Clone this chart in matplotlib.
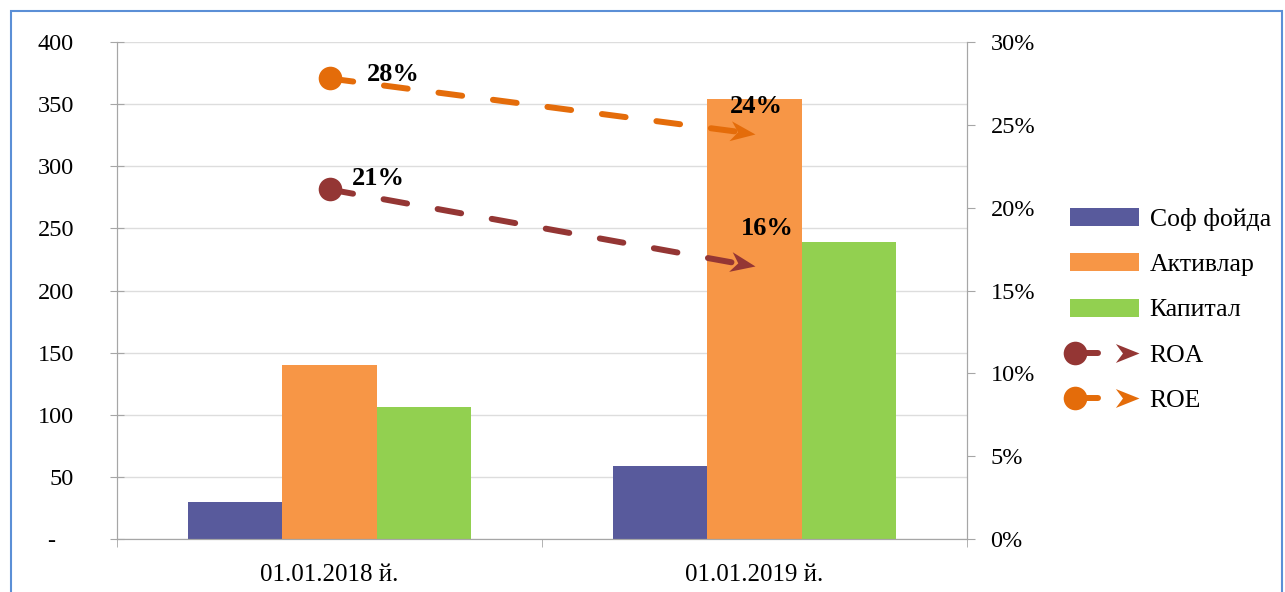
import math
import numpy as np
import matplotlib
matplotlib.use('Agg')
import matplotlib.pyplot as plt
from matplotlib.lines import Line2D
from matplotlib.patches import Rectangle
from matplotlib.markers import MarkerStyle
from matplotlib.path import Path
from matplotlib.transforms import Affine2D
from matplotlib.legend_handler import HandlerBase

# data
dates = ['01.01.2018 й.', '01.01.2019 й.']
net_profit = [30, 59]
assets = [140, 354]
capital = [106, 239]
roa = [0.211, 0.1645]
roe = [0.278, 0.2445]

bar_names = ['Соф фойда', 'Активлар', 'Капитал']
line_names = ['ROA', 'ROE']
left_ticks = [0, 50, 100, 150, 200, 250, 300, 350, 400]
right_ticks = [0, 0.05, 0.10, 0.15, 0.20, 0.25, 0.30]

bar_colors = ['#585A9C', '#F79646', '#92D050']
line_colors = ['#943634', '#E46C0A']
grey = '#A6A6A6'

plt.rcParams['font.family'] = ['Liberation Serif', 'DejaVu Serif']
plt.rcParams['font.size'] = 17.5

# notched arrow head, tip at the origin
head_path = Path([(-2, -0.8), (0, 0), (-2, 0.8), (-1.4, 0), (-2, -0.8)],
                 [Path.MOVETO, Path.LINETO, Path.LINETO, Path.LINETO, Path.CLOSEPOLY])


class ArrowLegend(HandlerBase):
    def create_artists(self, legend, orig_handle, xdescent, ydescent,
                       width, height, fontsize, trans):
        c = orig_handle.get_color()
        y = height / 2 - ydescent
        x0 = -xdescent
        stem = Line2D([x0 + 0.07 * width, x0 + 0.41 * width], [y, y], color=c,
                      lw=4.3, solid_capstyle='round', transform=trans)
        dot = Line2D([x0 + 0.07 * width], [y], marker='o', ms=17, mew=0,
                     color=c, transform=trans)
        head = Line2D([x0 + width], [y], marker=head_path, ms=34, mew=0,
                      color=c, transform=trans)
        return [stem, dot, head]


fig = plt.figure(figsize=(12.85, 5.92), dpi=100)
ax = fig.add_axes([117 / 1285, 1 - 539 / 592, 850 / 1285, 497 / 592])

x = np.arange(len(dates))
w = 0.222
bars = []
for i, (vals, name, c) in enumerate(zip([net_profit, assets, capital], bar_names, bar_colors)):
    bars.append(ax.bar(x + (i - 1) * w, vals, w, color=c, label=name, zorder=2))

ax.set_xlim(-0.5, 1.5)
ax.set_ylim(0, 400)
ax.set_yticks(left_ticks)
ax.set_yticklabels(['-   ' if v == 0 else str(v) for v in left_ticks])
ax.yaxis.grid(True, color='#DDDDDD', lw=1)
ax.set_axisbelow(True)
ax.set_xticks(x)
ax.set_xticklabels(dates, fontsize=18)
ax.set_xticks([-0.5, 0.5, 1.5], minor=True)
ax.tick_params(axis='x', which='major', length=0, pad=18)
ax.tick_params(axis='x', which='minor', length=6, direction='out', color=grey)
ax.tick_params(axis='y', direction='inout', length=10, color=grey, pad=26)
ax.spines['top'].set_visible(False)
for s in ['left', 'right', 'bottom']:
    ax.spines[s].set_color(grey)

ax2 = ax.twinx()
ax2.set_ylim(0, 0.30)
ax2.set_yticks(right_ticks)
ax2.set_yticklabels(['{:.0%}'.format(v) for v in right_ticks])
ax2.tick_params(axis='y', direction='out', length=6, color=grey, pad=11)
ax2.spines['top'].set_visible(False)
for s in ['left', 'right', 'bottom']:
    ax2.spines[s].set_color(grey)

lines = []
label_offsets = [[(35, 8), (9, 27)], [(46, 3), (1, 20)]]
for vals, c, name, offs in zip([roa, roe], line_colors, line_names, label_offsets):
    ln, = ax2.plot(x, vals, color=c, lw=4.3, dashes=(4, 5.2), dash_capstyle='round',
                   marker='o', markevery=[0], ms=17, mew=0, zorder=3, label=name)
    lines.append(ln)
    p0 = ax2.transData.transform((x[0], vals[0]))
    p1 = ax2.transData.transform((x[-1], vals[-1]))
    ang = math.degrees(math.atan2(p1[1] - p0[1], p1[0] - p0[0]))
    ax2.plot(x[-1], vals[-1], ls='none', color=c, mew=0, ms=36, zorder=3,
             marker=MarkerStyle(head_path, transform=Affine2D().rotate_deg(ang)))
    for xi, v, off in zip(x, vals, offs):
        ax2.annotate('{:.0%}'.format(v), (xi, v), xytext=off, textcoords='offset points',
                     ha='center', va='center', fontsize=19, fontweight='bold', zorder=4)

handles = bars + lines
labels = bar_names + line_names
fig.legend(handles, labels, loc='center left', bbox_to_anchor=(1070 / 1285, 1 - 310 / 592),
           frameon=False, borderpad=0, borderaxespad=0, handlelength=2.7,
           handletextpad=0.4, labelspacing=0.86, fontsize=18.5,
           handler_map={ln: ArrowLegend() for ln in lines})

fig.patches.append(Rectangle((11 / 1285, -0.05), 1271 / 1285, 1.05 - 11 / 592,
                             transform=fig.transFigure, fill=False,
                             edgecolor='#5B8FD6', lw=1.5))

fig.savefig('out.png', dpi=100)
